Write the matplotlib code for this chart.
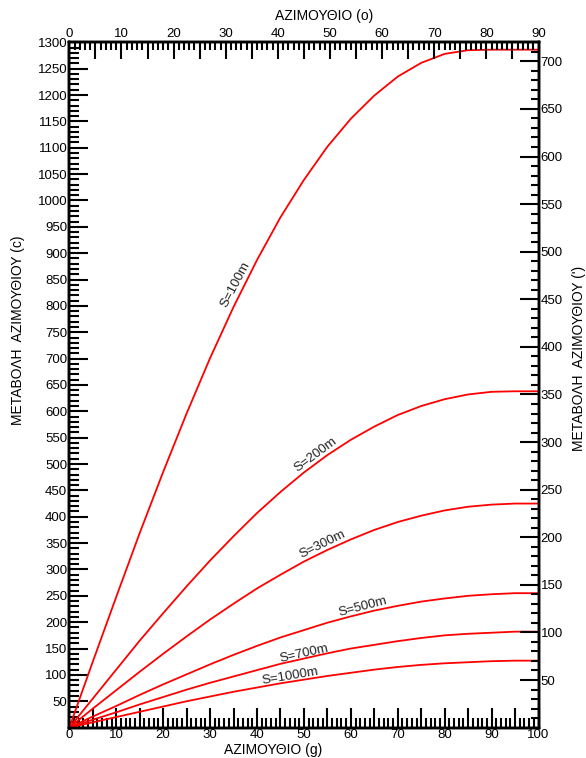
import numpy as np
import matplotlib
matplotlib.use("Agg")
import matplotlib.pyplot as plt
from matplotlib.ticker import MultipleLocator, FuncFormatter

plt.rcParams['font.family'] = ['Liberation Sans', 'DejaVu Sans']

# ---- data ----
grads = [0, 5, 10, 15, 20, 25, 30, 35, 40, 45, 50, 55, 60, 65, 70, 75, 80, 85, 90, 95, 100]
s100 = [0, 125, 248, 369, 485, 596, 701, 798, 887, 968, 1039, 1102, 1155, 1199, 1235, 1261, 1278, 1285, 1286, 1286, 1286]
s200 = [0, 55, 110, 165, 217, 268, 317, 363, 407, 447, 484, 517, 546, 571, 593, 610, 623, 632, 637, 638, 638]
s300 = [0, 36, 71, 106, 140, 173, 205, 235, 264, 290, 315, 337, 357, 375, 390, 402, 412, 419, 423, 425, 425]
s500 = [0, 21, 41, 62, 82, 101, 120, 138, 155, 171, 185, 199, 211, 222, 231, 239, 245, 250, 253, 255, 255]
s700 = [0, 15, 29, 44, 58, 72, 85, 97, 109, 121, 131, 141, 150, 157, 164, 170, 175, 178, 180, 182, 182]
s1000 = [0, 10, 20, 30, 40, 50, 59, 68, 76, 84, 91, 98, 104, 110, 115, 119, 122, 124, 126, 127, 127]
series = [s100, s200, s300, s500, s700, s1000]
labels = ["S=100m", "S=200m", "S=300m", "S=500m", "S=700m", "S=1000m"]
label_pos = [(35.5, 841), (52.6, 517), (53.9, 348), (62.6, 229), (50.0, 141), (47.0, 98)]
label_rot = [62, 36.5, 26, 14.5, 12.5, 9.5]

fig = plt.figure(figsize=(5.86, 7.58), dpi=100)
ax = fig.add_axes([0.1183, 0.0401, 0.8007, 0.9041])
ax.set_xlim(0, 100)
ax.set_ylim(0, 1300)

for s in series:
    ax.plot(grads, s, color='#ff0000', lw=1.3, solid_joinstyle='round', zorder=3)

for lab, (x, y), r in zip(labels, label_pos, label_rot):
    ax.text(x, y, lab, rotation=r, rotation_mode='anchor', ha='center', va='center',
            fontsize=9.5, color='#222222')

tick_kw = dict(direction='in', width=1.5, color='black', labelsize=9.5)

# bottom axis (grads)
ax.xaxis.set_major_locator(MultipleLocator(5))
ax.xaxis.set_minor_locator(MultipleLocator(1))
ax.xaxis.set_major_formatter(FuncFormatter(lambda v, p: f"{int(round(v))}" if int(round(v)) % 10 == 0 else ""))
ax.tick_params(axis='x', which='major', length=14.5, pad=1.0, **tick_kw)
ax.tick_params(axis='x', which='minor', length=7, direction='in', width=1.5)

# left axis (c)
ax.yaxis.set_major_locator(MultipleLocator(50))
ax.yaxis.set_minor_locator(MultipleLocator(10))
ax.yaxis.set_major_formatter(FuncFormatter(lambda v, p: "" if v == 0 else f"{int(round(v))}"))
ax.tick_params(axis='y', which='major', length=14, pad=1.5, **tick_kw)
ax.tick_params(axis='y', which='minor', length=7, direction='in', width=1.5)

# top axis (degrees)
axt = ax.twiny()
axt.set_xlim(0, 90)
axt.xaxis.set_major_locator(MultipleLocator(5))
axt.xaxis.set_minor_locator(MultipleLocator(1))
axt.xaxis.set_major_formatter(FuncFormatter(lambda v, p: f"{int(round(v))}" if int(round(v)) % 10 == 0 else ""))
axt.tick_params(axis='x', which='major', length=12, pad=1.5, **tick_kw)
axt.tick_params(axis='x', which='minor', length=6, direction='in', width=1.5)

# right axis (minutes)
axr = ax.twinx()
axr.set_ylim(0, 720)
axr.yaxis.set_major_locator(MultipleLocator(50))
axr.yaxis.set_minor_locator(MultipleLocator(10))
axr.yaxis.set_major_formatter(FuncFormatter(lambda v, p: "" if v == 0 else f"{int(round(v))}"))
axr.tick_params(axis='y', which='major', length=13.5, pad=1.5, **tick_kw)
axr.tick_params(axis='y', which='minor', length=6, direction='in', width=1.5)

for a in (ax, axt, axr):
    for sp in a.spines.values():
        sp.set_linewidth(1.7)

fig.text(0.553, 0.9790, "ΑΖΙΜΟΥΘΙΟ (o)", ha='center', va='center', fontsize=10)
fig.text(0.466, 0.0100, "ΑΖΙΜΟΥΘΙΟ (g)", ha='center', va='center', fontsize=10)
fig.text(0.030, 0.5646, "ΜΕΤΑΒΟΛΗ  ΑΖΙΜΟΥΘΙΟΥ (c)", ha='center', va='center', rotation=90, fontsize=10)
fig.text(0.988, 0.5277, "ΜΕΤΑΒΟΛΗ  ΑΖΙΜΟΥΘΙΟΥ (')", ha='center', va='center', rotation=90, fontsize=10)

fig.savefig("out.png", dpi=100)
